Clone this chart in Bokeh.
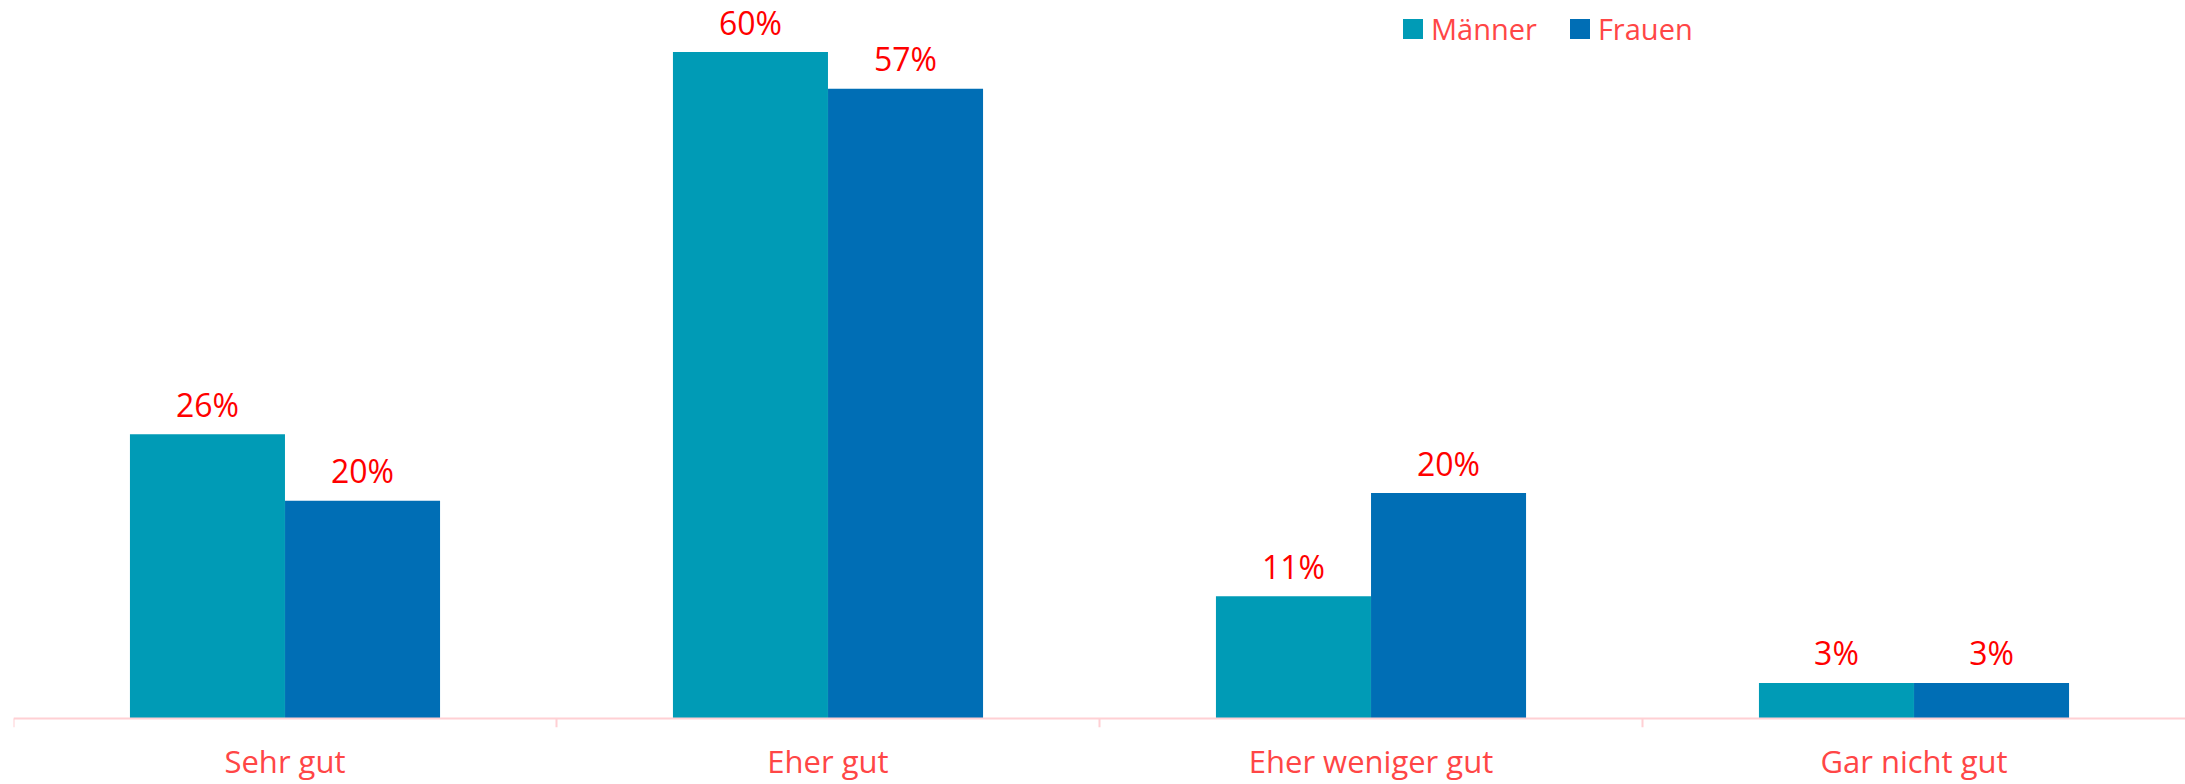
from bokeh.plotting import figure
from bokeh.models import ColumnDataSource, Range1d, FactorRange, Span, Legend, LegendItem
from bokeh.transform import dodge
from bokeh.core.properties import value
from bokeh.embed import file_html
from bokeh.resources import INLINE

categories = ["Sehr gut", "Eher gut", "Eher weniger gut", "Gar nicht gut"]
maenner = [25.6, 60.0, 11.0, 3.2]
frauen = [19.6, 56.7, 20.3, 3.2]
series_names = ["Männer", "Frauen"]
colors = ["#009BB6", "#006EB5"]

FONT = "Open Sans"
LABEL_RED = "#FF0000"
AXIS_RED = "#FF4646"

src = ColumnDataSource(dict(
    cat=categories,
    m=maenner,
    f=frauen,
    ml=[f"{round(v)}%" for v in maenner],
    fl=[f"{round(v)}%" for v in frauen],
))

p = figure(width=2185, height=784, x_range=FactorRange(*categories),
           y_range=Range1d(-0.81, 64.64), output_backend="svg",
           toolbar_location=None, min_border_left=13, min_border_right=0,
           min_border_top=0, min_border_bottom=57)
p.outline_line_color = None
p.grid.visible = False
p.yaxis.visible = False
p.background_fill_color = "white"

bw = 0.2855
off = 0.1428
rm = p.vbar(x=dodge("cat", -off, range=p.x_range), top="m", width=bw, bottom=0,
            source=src, fill_color=colors[0], line_color=None)
rf = p.vbar(x=dodge("cat", off, range=p.x_range), top="f", width=bw, bottom=0,
            source=src, fill_color=colors[1], line_color=None)

p.text(x=dodge("cat", -off, range=p.x_range), y="m", text="ml", source=src,
       text_align="center", text_baseline="alphabetic", y_offset=-30,
       text_font=value(FONT), text_font_size="32px", text_color=LABEL_RED)
p.text(x=dodge("cat", off, range=p.x_range), y="f", text="fl", source=src,
       text_align="center", text_baseline="alphabetic", y_offset=-30,
       text_font=value(FONT), text_font_size="32px", text_color=LABEL_RED)

# baseline and boundary ticks
p.add_layout(Span(location=0, dimension="width", line_color="#FFD0D4", line_width=2))
p.segment(x0=dodge("cat", -0.5, range=p.x_range), x1=dodge("cat", -0.5, range=p.x_range),
          y0=0, y1=-0.81, source=src, line_color="#FFD0D4", line_width=2)

ax = p.xaxis[0]
ax.axis_line_color = None
ax.major_tick_line_color = None
ax.major_tick_out = 0
ax.major_tick_in = 0
ax.minor_tick_line_color = None
ax.major_label_standoff = 12
ax.major_label_text_font = FONT
ax.major_label_text_font_size = "31px"
ax.major_label_text_line_height = 1.0
ax.major_label_text_color = AXIS_RED

legend = Legend(items=[LegendItem(label=series_names[0], renderers=[rm]),
                       LegendItem(label=series_names[1], renderers=[rf])],
                orientation="horizontal", location=(1387, 679),
                glyph_width=25, glyph_height=25, label_standoff=6, spacing=30,
                padding=0, margin=0, border_line_color=None,
                background_fill_alpha=0,
                label_text_font=FONT, label_text_font_size="29px",
                label_text_color=AXIS_RED)
p.add_layout(legend, "center")

open("out.html", "w").write(file_html(p, INLINE))
